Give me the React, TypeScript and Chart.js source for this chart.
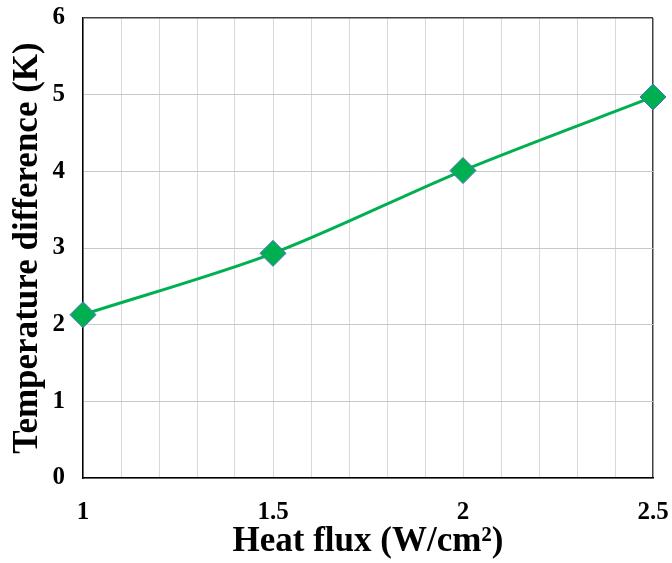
import React, { useEffect, useRef } from "react";
import { Chart, registerables } from "chart.js";

Chart.register(...registerables);

const heatFlux = [1, 1.5, 2, 2.5];
const tempDiff = [2.13, 2.93, 4.01, 4.97];
const xTitle = "Heat flux (W/cm²)";
const yTitle = "Temperature difference (K)";

export default function App() {
  const ref = useRef<HTMLCanvasElement | null>(null);
  useEffect(() => {
    if (!ref.current) return;
    const font = "'Liberation Serif', 'Times New Roman', serif";
    const chart = new Chart(ref.current, {
      type: "line",
      data: {
        datasets: [
          {
            data: heatFlux.map((x, i) => ({ x, y: tempDiff[i] })),
            borderColor: "#00B050",
            backgroundColor: "#00B050",
            borderWidth: 3,
            tension: 0.3,
            pointStyle: "rectRot",
            pointRadius: 13,
            pointBackgroundColor: "#00B050",
            pointBorderColor: "#4472C4",
            pointBorderWidth: 1,
            clip: false,
          },
        ],
      },
      options: {
        animation: false,
        responsive: false,
        maintainAspectRatio: false,
        layout: { padding: { left: 0, right: 19, top: 18, bottom: 0 } },
        plugins: { legend: { display: false }, tooltip: { enabled: false } },
        scales: {
          x: {
            type: "linear",
            min: 1,
            max: 2.5,
            ticks: {
              stepSize: 0.1,
              autoSkip: false,
              maxRotation: 0,
              padding: 20,
              color: "#000",
              font: { family: font, size: 25, weight: "bold" },
              callback: (v: any) => {
                const n = Number(v);
                return Math.abs(n * 2 - Math.round(n * 2)) < 1e-6 ? String(Math.round(n * 2) / 2) : "";
              },
            },
            grid: {
              drawTicks: false,
              color: (ctx: any) => (ctx.tick && Math.abs(ctx.tick.value - 2.5) < 1e-6 ? "#404040" : "#d9d9d9"),
              lineWidth: (ctx: any) => (ctx.tick && Math.abs(ctx.tick.value - 2.5) < 1e-6 ? 1.5 : 1),
            },
            border: { color: "#000", width: 1.5 },
            title: {
              display: true,
              text: xTitle,
              color: "#000",
              font: { family: font, size: 35, weight: "bold" },
              padding: { top: 0, bottom: 0 },
            },
            afterFit: (s: any) => {
              s.height = 563 - 478;
              s.paddingLeft = 0;
              s.paddingRight = 0;
            },
          },
          y: {
            min: 0,
            max: 6,
            ticks: {
              stepSize: 1,
              padding: 18,
              color: "#000",
              font: { family: font, size: 25, weight: "bold" },
            },
            grid: {
              drawTicks: false,
              color: (ctx: any) => (ctx.tick && ctx.tick.value === 6 ? "#404040" : "#c8c8c8"),
              lineWidth: (ctx: any) => (ctx.tick && ctx.tick.value === 6 ? 1.5 : 1),
            },
            border: { color: "#000", width: 1.5 },
            title: {
              display: true,
              text: yTitle,
              color: "#000",
              font: { family: font, size: 35, weight: "bold" },
              padding: { top: 7, bottom: 0 },
            },
            afterFit: (s: any) => {
              s.width = 83;
              s.paddingTop = 0;
              s.paddingBottom = 0;
            },
          },
        },
      },
    } as any);
    return () => chart.destroy();
  }, []);
  return (
    <div style={{ position: "fixed", left: 0, top: 0, width: 672, height: 563, background: "#fff" }}>
      <canvas ref={ref} width={672} height={563} style={{ width: 672, height: 563 }} />
    </div>
  );
}
